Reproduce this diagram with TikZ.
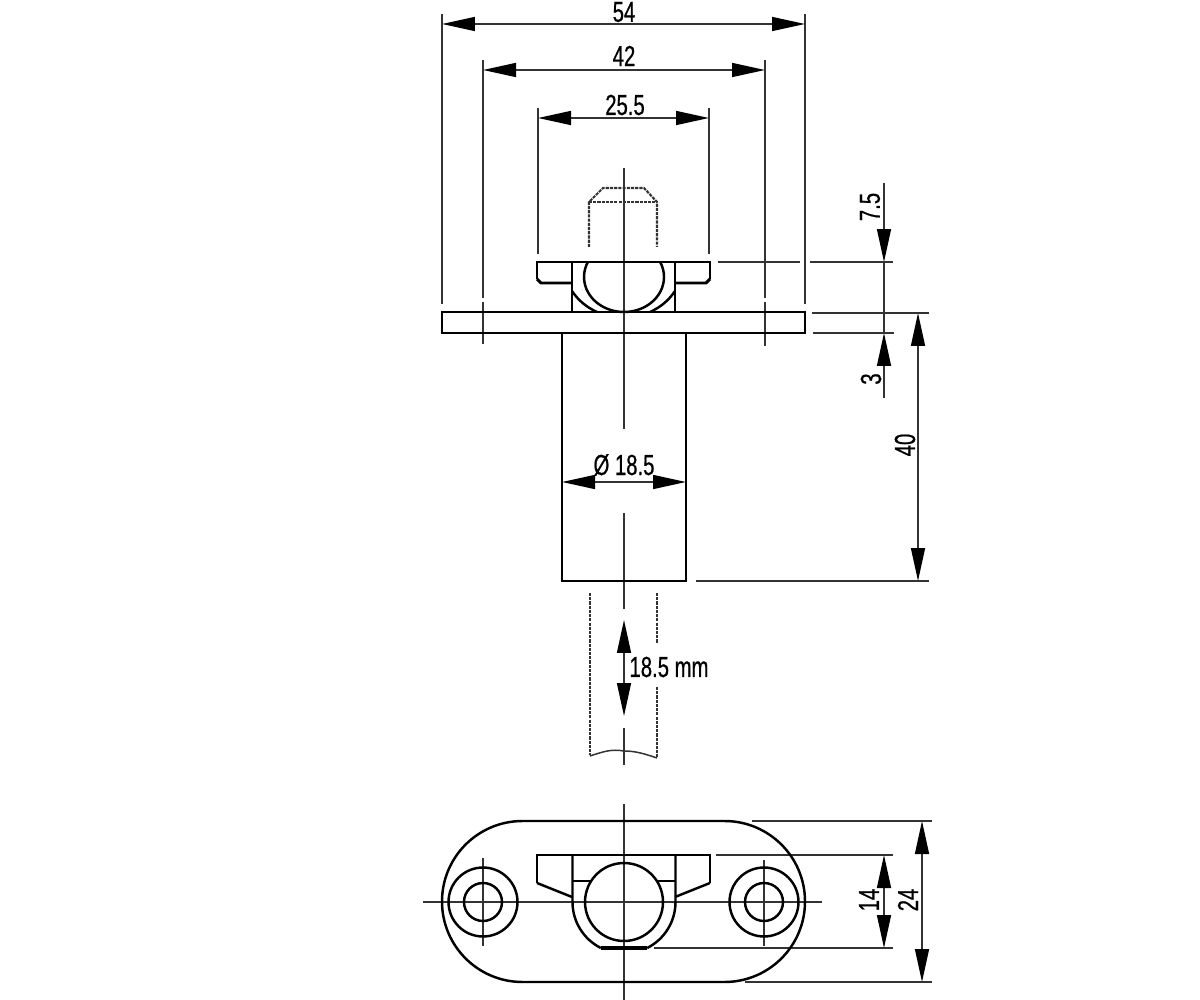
\documentclass[tikz,border=0pt]{standalone}
\usepackage{fontspec}
\newfontfamily\dimfont[FakeStretch=0.7,FakeBold=0.6]{Liberation Sans}
\usetikzlibrary{arrows.meta}
\tikzset{
	objline/.style={line width=1.4pt,black},
	thinline/.style={line width=.85pt,black!80},
	hiddenline/.style={line width=1.2pt,black!80,dash pattern=on 1.8pt off .6pt},
	dimline/.style={line width=.85pt,black!80,>={Stealth[length=.66cm,width=.28cm,inset=0pt,black]}},
	dimtext/.style={font=\dimfont\fontsize{16.5}{18}\selectfont,inner sep=0pt,black}
}
\begin{document}
\begin{tikzpicture}[x=.02cm,y=-.02cm]
	\useasboundingbox (0,0) rectangle (1200,1000);
	% dimension ends
	\coordinate(wA) at (442,24);
	\coordinate(wB) at (805,24);
	\coordinate(hA) at (483,70);
	\coordinate(hB) at (765,70);
	\coordinate(fA) at (538,118);
	\coordinate(fB) at (709,118);
	\coordinate(dA) at (562,482);
	\coordinate(dB) at (686,482);
	\coordinate(sA) at (624,620);
	\coordinate(sB) at (624,716);
	\coordinate(tA) at (884,183);
	\coordinate(tB) at (884,262);
	\coordinate(tC) at (884,333);
	\coordinate(tD) at (884,398);
	\coordinate(lA) at (918,313);
	\coordinate(lB) at (918,581);
	\coordinate(mA) at (884,855);
	\coordinate(mB) at (884,948);
	\coordinate(nA) at (922,821);
	\coordinate(nB) at (922,982);
	% labels
	\node(wL)[dimtext] at (624,12){54};
	\node(hL)[dimtext] at (624,56){42};
	\node(fL)[dimtext] at (625,105){25.5};
	\node(dL)[dimtext] at (624,465){Ø 18.5};
	\node(sL)[dimtext] at (669,667){18.5 mm};
	\node(tL)[dimtext,rotate=90] at (870,207){7.5};
	\node(cL)[dimtext,rotate=90] at (871,379){3};
	\node(lL)[dimtext,rotate=90] at (905,445){40};
	\node(mL)[dimtext,rotate=90] at (869,900){14};
	\node(nL)[dimtext,rotate=90] at (908,900){24};
	% dimension lines
	\draw[dimline,<->](wA) to (wB);
	\draw[dimline,<->](hA) to (hB);
	\draw[dimline,<->](fA) to (fB);
	\draw[dimline,<->](dA) to (dB);
	\draw[dimline,<->](sA) to (sB);
	\draw[dimline,->](tA) to (tB);
	\draw[dimline](tB) to (tC);
	\draw[dimline,->](tD) to (tC);
	\draw[dimline,<->](lA) to (lB);
	\draw[dimline,<->](mA) to (mB);
	\draw[dimline,<->](nA) to (nB);
	% extension lines
	\draw[thinline](442,14)--(442,304);
	\draw[thinline](805,14)--(805,304);
	\draw[thinline](483,60)--(483,298) (483,302)--(483,344);
	\draw[thinline](765,60)--(765,298) (765,302)--(765,346);
	\draw[thinline](538,108)--(538,254);
	\draw[thinline](709,108)--(709,254);
	\draw[thinline](718,262)--(800,262) (810,262)--(893,262);
	\draw[thinline](812,313)--(929,313);
	\draw[thinline](813,333)--(894,333);
	\draw[thinline](696,581)--(929,581);
	\draw[thinline](752,821)--(932,821);
	\draw[thinline](716,855)--(893,855);
	\draw[thinline](654,948)--(893,948);
	\draw[thinline](745,982)--(932,982);
	% centre lines
	\draw[thinline](624,168)--(624,429) (624,513)--(624,609) (624,728)--(624,765);
	\draw[thinline](624,804)--(624,1000);
	\draw[thinline](423,902)--(822,902);
	\draw[thinline](483,858)--(483,946);
	\draw[thinline](764,860)--(764,946);
	% hidden pin
	\draw[hiddenline](589,247)--(589,202)--(603,188)--(644,188)--(657,202)--(657,247);
	\draw[hiddenline](589,202)--(657,202);
	\draw[hiddenline](590,593)--(590,755);
	\draw[hiddenline](657,593)--(657,643) (657,687)--(657,757);
	\draw[thinline](590,756) .. controls (605,751) and (612,749) .. (624,751) .. controls (636,751) and (645,754) .. (657,758);
	% side view
	\draw[objline](442,312) rectangle (805,333);
	\draw[objline](562,333)--(562,581)--(686,581)--(686,333);
	\draw[objline](537,279)--(537,262)--(710,262)--(710,279);
	\draw[objline,line width=1.7pt](537,279)--(541,283)--(572,283);
	\draw[objline,line width=1.7pt](710,279)--(706,283)--(675,283);
	\draw[objline](572,262)--(572,312);
	\draw[objline](675,262)--(675,312);
	\draw[objline](587.9,262) arc[start angle=154.6,end angle=385.4,x radius=.8cm,y radius=.7cm];
	\draw[objline](572,291) .. controls (578,300) and (586,307) .. (597,312);
	\draw[objline](675,291) .. controls (669,300) and (661,307) .. (650,312);
	% plan view
	\draw[objline,rounded corners=1.61cm](442,821) rectangle (805,982);
	\draw[objline](483,902) circle[radius=.69cm];
	\draw[objline](483,902) circle[radius=.38cm];
	\draw[objline](764,902) circle[radius=.69cm];
	\draw[objline](764,902) circle[radius=.38cm];
	\draw[objline](537,883)--(537,855)--(710,855)--(710,883);
	\draw[objline](537,883)--(572,897);
	\draw[objline](710,883)--(675,897);
	\draw[objline](572.5,855)--(572.5,902) arc[start angle=180,end angle=243.3,radius=1.03cm];
	\draw[objline](675.5,855)--(675.5,902) arc[start angle=0,end angle=-63.3,radius=1.03cm];
	\draw[objline,line width=2.2pt](601,948)--(647,948);
	\draw[objline](572,881)--(590,881);
	\draw[objline](658,881)--(675,881);
	\draw[objline](624,902) circle[radius=.78cm];
\end{tikzpicture}
\end{document}
